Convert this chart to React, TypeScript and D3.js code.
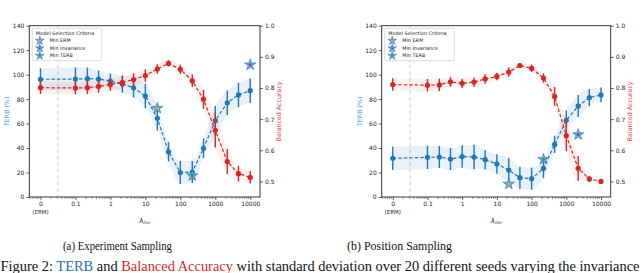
import React, { useEffect, useRef } from 'react';
import * as d3 from 'd3';

// lambda_inv values; 0 is the ERM baseline, drawn at the 0.01 slot
const lambdas = [0, 0.1, 0.22, 0.46, 1, 2.2, 4.6, 10, 22, 46, 100, 220, 460, 1000, 2200, 4600, 10000];
const xTicks = [0, 0.1, 1, 10, 100, 1000, 10000];
const xTickLabels = ['0', '0.1', '1', '10', '100', '1000', '10000'];
const terbTicks = [0, 20, 40, 60, 80, 100, 120, 140];
const accTicks = [0.5, 0.6, 0.7, 0.8, 0.9, 1.0];

// (a) Experiment Sampling
const expTerb = [96.2, 96.4, 96.7, 96.4, 94.8, 92.3, 89.3, 82.5, 64.3, 37, 20, 20.4, 39.8, 62.4, 77, 83.4, 86.9];
const expTerbStd = [9, 9.5, 9, 7, 6, 7, 8, 10, 10, 8, 9.5, 9, 8, 12, 10, 10, 10];
const expAcc = [0.801, 0.8, 0.801, 0.805, 0.811, 0.818, 0.827, 0.84, 0.861, 0.879, 0.86, 0.823, 0.764, 0.664, 0.564, 0.525, 0.513];
const expAccStd = [0.02, 0.02, 0.02, 0.02, 0.02, 0.02, 0.02, 0.02, 0.015, 0.01, 0.015, 0.02, 0.03, 0.055, 0.04, 0.025, 0.02];

// (b) Position Sampling
const posTerb = [31.6, 32.4, 32.7, 31, 33, 32.7, 30.5, 27, 22, 15.8, 15, 23.4, 43, 62.7, 74.4, 81.2, 83.4];
const posTerbStd = [9.5, 9.5, 9, 9, 9, 10, 8, 8, 10, 9, 9, 8, 7, 8, 9, 7, 6];
const posAcc = [0.811, 0.809, 0.81, 0.82, 0.815, 0.819, 0.829, 0.837, 0.851, 0.872, 0.863, 0.832, 0.773, 0.647, 0.542, 0.508, 0.5];
const posAccStd = [0.02, 0.02, 0.02, 0.015, 0.015, 0.015, 0.015, 0.012, 0.015, 0.008, 0.012, 0.015, 0.03, 0.05, 0.04, 0.01, 0.005];

const criteria = ['Min ERM', 'Min Invariance', 'Min TERB'];
const criteriaColors = ['#ff9f1a', '#a8359c', '#2ca02c'];
const expStarLambda = [22, 10000, 220];
const expStarTerb = [72.5, 108, 17.4];
const posStarLambda = [22, 2200, 220];
const posStarTerb = [10.6, 51, 30.8];

const BLUE = '#1f77b4';
const RED = '#d62728';

interface PanelSpec {
  x0: number;
  x1: number;
  terb: number[];
  terbStd: number[];
  acc: number[];
  accStd: number[];
  starLambda: number[];
  starTerb: number[];
}

const TOP = 25.7;
const BOTTOM = 197;

const App: React.FC = () => {
  const svgRef = useRef<SVGSVGElement>(null);

  useEffect(() => {
    document.body.style.margin = '0';
    if (!svgRef.current) return;
    const svg = d3.select(svgRef.current);
    svg.selectAll('*').remove();

    const panels: PanelSpec[] = [
      { x0: 29.3, x1: 260, terb: expTerb, terbStd: expTerbStd, acc: expAcc, accStd: expAccStd, starLambda: expStarLambda, starTerb: expStarTerb },
      { x0: 381.7, x1: 610.7, terb: posTerb, terbStd: posTerbStd, acc: posAcc, accStd: posAccStd, starLambda: posStarLambda, starTerb: posStarTerb },
    ];

    const lx = (l: number) => (l === 0 ? 0.01 : l);
    const starPath = (size: number) => d3.symbol().type(d3.symbolStar).size(size)() as string;

    panels.forEach((p) => {
      const g = svg.append('g');
      const x = d3.scaleLog().domain([0.0048, 19000]).range([p.x0, p.x1]);
      const y = d3.scaleLinear().domain([0, 140]).range([BOTTOM, TOP]);
      const ya = d3.scaleLinear().domain([0.45, 1.0]).range([BOTTOM, TOP]);

      // ERM separator
      g.append('line')
        .attr('x1', x(0.0316)).attr('x2', x(0.0316))
        .attr('y1', TOP).attr('y2', BOTTOM)
        .attr('stroke', '#cccccc').attr('stroke-width', 1).attr('stroke-dasharray', '4,2.5');

      const drawSeries = (vals: number[], std: number[], sc: d3.ScaleLinear<number, number>, color: string, bandOpacity: number) => {
        const idx = d3.range(vals.length);
        const area = d3.area<number>()
          .x(i => x(lx(lambdas[i])))
          .y0(i => sc(vals[i] - std[i]))
          .y1(i => sc(vals[i] + std[i]))
          .curve(d3.curveMonotoneX);
        g.append('path').attr('d', area(idx) as string).attr('fill', color).attr('opacity', bandOpacity);

        const line = d3.line<number>().x(i => x(lx(lambdas[i]))).y(i => sc(vals[i]));
        g.append('path').attr('d', line(idx) as string)
          .attr('fill', 'none').attr('stroke', color).attr('stroke-width', 1.2).attr('stroke-dasharray', '3.5,2');

        g.selectAll(null).data(idx).enter().append('line')
          .attr('x1', i => x(lx(lambdas[i]))).attr('x2', i => x(lx(lambdas[i])))
          .attr('y1', i => sc(vals[i] - std[i])).attr('y2', i => sc(vals[i] + std[i]))
          .attr('stroke', color).attr('stroke-width', 1.4);

        g.selectAll(null).data(idx).enter().append('circle')
          .attr('cx', i => x(lx(lambdas[i]))).attr('cy', i => sc(vals[i]))
          .attr('r', 2.6).attr('fill', color);
      };

      drawSeries(p.terb, p.terbStd, y, BLUE, 0.1);

      // selection stars
      p.starLambda.forEach((l, i) => {
        const sg = g.append('g').attr('transform', `translate(${x(lx(l))},${y(p.starTerb[i])})`);
        sg.append('path').attr('d', starPath(40)).attr('fill', '#67a8dc').attr('stroke', BLUE).attr('stroke-width', 0.6);
        sg.append('circle').attr('r', 1.4).attr('fill', criteriaColors[i]);
      });

      drawSeries(p.acc, p.accStd, ya, RED, 0.07);

      // frame
      g.append('rect').attr('x', p.x0).attr('y', TOP).attr('width', p.x1 - p.x0).attr('height', BOTTOM - TOP)
        .attr('fill', 'none').attr('stroke', '#222').attr('stroke-width', 0.9);

      const tickFont = (sel: d3.Selection<SVGGElement, unknown, null, undefined>) => {
        sel.select('.domain').remove();
        sel.selectAll('text').attr('font-family', 'DejaVu Sans').attr('font-size', 6).attr('fill', '#222');
        sel.selectAll('line').attr('stroke', '#222').attr('stroke-width', 0.7);
      };

      g.append('g').attr('transform', `translate(${p.x0},0)`)
        .call(d3.axisLeft(y).tickValues(terbTicks).tickSize(3).tickPadding(2))
        .call(tickFont);

      g.append('g').attr('transform', `translate(${p.x1},0)`)
        .call(d3.axisRight(ya).tickValues(accTicks).tickFormat(d3.format('.1f')).tickSize(3).tickPadding(2))
        .call(tickFont);

      // minor log ticks
      const minors: number[] = [];
      for (let e = -3; e <= 4; e++) {
        for (let k = 2; k <= 9; k++) {
          const v = k * Math.pow(10, e);
          if (v > 0.0048 && v < 19000) minors.push(v);
        }
      }
      g.selectAll(null).data(minors).enter().append('line')
        .attr('x1', d => x(d)).attr('x2', d => x(d))
        .attr('y1', BOTTOM).attr('y2', BOTTOM + 1.8)
        .attr('stroke', '#222').attr('stroke-width', 0.5);

      g.append('g').attr('transform', `translate(0,${BOTTOM})`)
        .call(d3.axisBottom(x).tickValues(xTicks.map(lx)).tickFormat((_d, i) => xTickLabels[i]).tickSize(3).tickPadding(2))
        .call(tickFont);

      g.append('text')
        .attr('x', x(0.01)).attr('y', BOTTOM + 16.5)
        .attr('text-anchor', 'middle').attr('font-family', 'DejaVu Sans').attr('font-size', 5.5).attr('fill', '#222')
        .text('(ERM)');

      // axis labels
      const cy = (TOP + BOTTOM) / 2;
      g.append('text')
        .attr('transform', `translate(${p.x0 - 20},${cy}) rotate(-90)`)
        .attr('text-anchor', 'middle').attr('font-family', 'DejaVu Sans').attr('font-size', 6.3).attr('fill', '#5a9fd6')
        .text('TERB (%)');
      g.append('text')
        .attr('transform', `translate(${p.x1 + 21},${cy}) rotate(-90)`)
        .attr('text-anchor', 'middle').attr('font-family', 'DejaVu Sans').attr('font-size', 6.3).attr('fill', '#e0474c')
        .text('Balanced Accuracy');

      const xl = g.append('text')
        .attr('x', (p.x0 + p.x1) / 2).attr('y', BOTTOM + 25.5)
        .attr('text-anchor', 'middle').attr('font-family', 'DejaVu Sans').attr('font-size', 7).attr('fill', '#222');
      xl.append('tspan').attr('font-style', 'italic').text('λ');
      xl.append('tspan').attr('font-size', 4.5).attr('font-style', 'italic').attr('dy', 1.5).text('inv');

      // legend
      const lg = g.append('g').attr('transform', `translate(${p.x0 + 3},${TOP + 2.6})`);
      lg.append('rect').attr('width', 69.5).attr('height', 32.4).attr('rx', 1.5)
        .attr('fill', 'white').attr('fill-opacity', 0.85).attr('stroke', '#d0d0d0').attr('stroke-width', 0.7);
      lg.append('text').attr('x', 3.5).attr('y', 7).attr('font-family', 'DejaVu Sans').attr('font-size', 4.9).attr('fill', '#222')
        .text('Model Selection Criteria');
      criteria.forEach((c, i) => {
        const yy = 14 + i * 7.5;
        const sg = lg.append('g').attr('transform', `translate(7.5,${yy - 1.6})`);
        sg.append('path').attr('d', starPath(24)).attr('fill', '#67a8dc').attr('stroke', BLUE).attr('stroke-width', 0.5);
        sg.append('circle').attr('r', 1.1).attr('fill', criteriaColors[i]);
        lg.append('text').attr('x', 17.5).attr('y', yy).attr('font-family', 'DejaVu Sans').attr('font-size', 4.9).attr('fill', '#222')
          .text(c);
      });
    });

    // captions
    const serif = 'Liberation Serif, Times New Roman, serif';
    svg.append('text').attr('x', 63).attr('y', 249.5)
      .attr('textLength', 109).attr('lengthAdjust', 'spacingAndGlyphs')
      .attr('font-family', serif).attr('font-size', 12).attr('fill', '#111').text('(a) Experiment Sampling');
    svg.append('text').attr('x', 347).attr('y', 249.5)
      .attr('textLength', 105).attr('lengthAdjust', 'spacingAndGlyphs')
      .attr('font-family', serif).attr('font-size', 12).attr('fill', '#111').text('(b) Position Sampling');

    const cap = svg.append('text').attr('x', 0.5).attr('y', 270.5)
      .attr('textLength', 639).attr('lengthAdjust', 'spacingAndGlyphs')
      .attr('font-family', serif).attr('font-size', 14).attr('fill', '#111');
    cap.append('tspan').text('Figure 2: ');
    cap.append('tspan').attr('fill', '#2a6db5').text('TERB');
    cap.append('tspan').text(' and ');
    cap.append('tspan').attr('fill', '#d42a2a').text('Balanced Accuracy');
    cap.append('tspan').text(' with standard deviation over 20 different seeds varying the invariance');
  }, []);

  return (
    <svg ref={svgRef} width={640} height={273} style={{ display: 'block', background: 'white' }} />
  );
};

export default App;
